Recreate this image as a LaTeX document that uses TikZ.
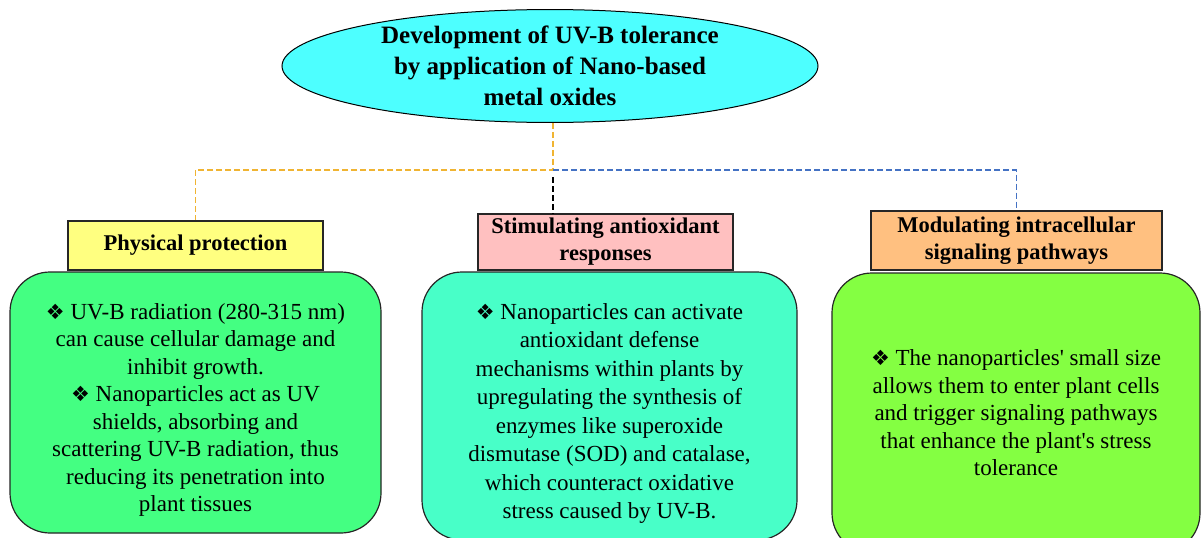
\documentclass[tikz,border=0pt]{standalone}
\usepackage{fontspec}
\setmainfont{Liberation Serif}
\newfontfamily\serifface{Liberation Serif}
\newfontfamily\symfont{DejaVu Sans}
\usetikzlibrary{shapes.geometric}
\definecolor{ellcyan}{RGB}{77,255,255}
\definecolor{hdyellow}{RGB}{255,255,128}
\definecolor{hdpink}{RGB}{255,192,192}
\definecolor{hdorange}{RGB}{255,192,128}
\definecolor{bxgreen}{RGB}{68,255,130}
\definecolor{bxaqua}{RGB}{72,255,200}
\definecolor{bxlime}{RGB}{132,255,66}
\definecolor{lnorange}{RGB}{240,180,50}
\definecolor{lnblue}{RGB}{68,114,196}
\newcommand{\bul}{{\symfont\fontsize{21}{21}\selectfont ❖}\ }
\tikzset{
  titleshape/.style={ellipse, draw=black, line width=1pt, fill=ellcyan, inner sep=0pt,
    minimum width=536pt, minimum height=108pt, align=center,
    font=\serifface\bfseries\fontsize{25}{31}\selectfont},
  header/.style={rectangle, draw=black!85, line width=1.2pt, inner sep=0pt, align=center,
    font=\serifface\bfseries\fontsize{22.5}{27}\selectfont},
  content/.style={rectangle, rounded corners=40pt, draw=black!85, line width=1.2pt,
    inner sep=0pt},
  bodytext/.style={inner sep=0pt, align=center, font=\serifface\fontsize{23}{27.5}\selectfont},
  conn/.style={line width=1.4pt, dash pattern=on 6pt off 3pt}
}
\begin{document}
\begin{tikzpicture}[x=1pt,y=-1pt]
\useasboundingbox (0,0) rectangle (1203,538);
\fill[white] (0,0) rectangle (1203,538);

\node[titleshape] (title) at (550,66) {Development of UV-B tolerance\\by application of Nano-based\\metal oxides};

\node[content, fill=bxgreen, minimum width=371pt, minimum height=261pt] (b1) at (195.5,402.5) {};
\node[bodytext] (t1) at (195.5,410)
 {\bul UV-B radiation (280-315 nm)\\can cause cellular damage and\\inhibit growth.\\\bul Nanoparticles act as UV\\shields, absorbing and\\scattering UV-B radiation, thus\\reducing its penetration into\\plant tissues};
\node[content, fill=bxaqua, minimum width=375pt, minimum height=268pt] (b2) at (609.5,406) {};
\node[bodytext, font=\serifface\fontsize{23}{28.5}\selectfont] (t2) at (609.5,413.5)
 {\bul Nanoparticles can activate\\antioxidant defense\\mechanisms within plants by\\upregulating the synthesis of\\enzymes like superoxide\\dismutase (SOD) and catalase,\\which counteract oxidative\\stress caused by UV-B.};
\node[content, fill=bxlime, minimum width=368pt, minimum height=280pt] (b3) at (1016,413) {};
\node[bodytext] (t3) at (1016,413)
 {\bul The nanoparticles' small size\\allows them to enter plant cells\\and trigger signaling pathways\\that enhance the plant's stress\\tolerance};

\node[header, fill=hdyellow, minimum width=255pt, minimum height=49pt] (h1) at (195.5,245.5) {Physical protection};
\node[header, fill=hdpink, minimum width=255pt, minimum height=56pt] (h2) at (605.5,242) {Stimulating antioxidant\\responses};
\node[header, fill=hdorange, minimum width=291pt, minimum height=59pt] (h3) at (1016.5,240.5) {Modulating intracellular\\signaling pathways};

\coordinate (j) at (553,170);
\coordinate (j2) at (553,177);
\draw[conn, draw=lnorange] (title.south -| j) -- (j) -- (j -| h1.north) -- (h1.north);
\draw[conn, draw=lnblue] (j) -- (j -| h3.north) -- (h3.north);
\draw[conn, draw=black] (j2) -- (j2 |- h2.north);
\end{tikzpicture}
\end{document}
